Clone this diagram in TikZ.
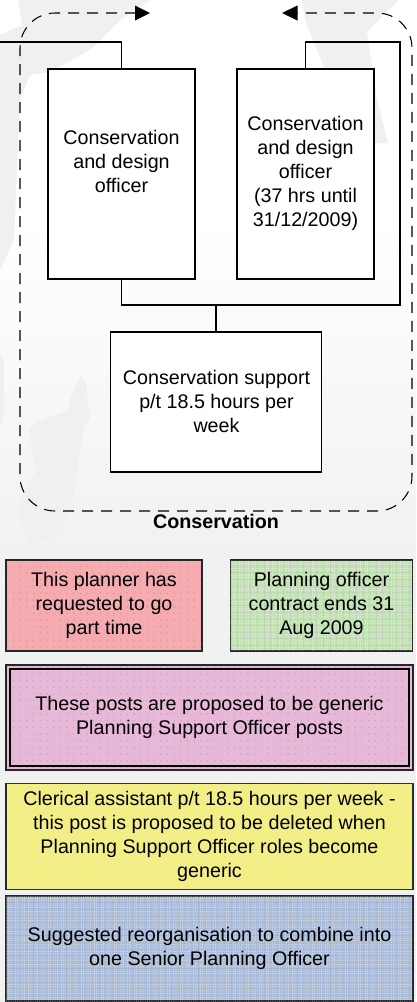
\documentclass[tikz,border=0pt]{standalone}
\usepackage{fontspec}
\setmainfont{Liberation Sans}
\usetikzlibrary{arrows.meta,patterns.meta}
\definecolor{wm}{HTML}{EFF1F0}
\definecolor{bgbot}{HTML}{F0F1F1}
\definecolor{rd}{HTML}{F6ABB0}
\definecolor{gn}{HTML}{C2E2B4}
\definecolor{pk}{HTML}{E8B8D8}
\definecolor{yl}{HTML}{F2EE84}
\definecolor{bl}{HTML}{ABBDDB}
\newcommand{\txt}{\fontsize{19.7}{24}\selectfont}
\tikzset{
 post/.style={draw=black,line width=1.05pt,fill=white,inner sep=0pt},
 posttext/.style={align=center,font=\txt,inner sep=0pt},
 note/.style={draw=black!85,line width=1.2pt,align=center,font=\txt,inner sep=0pt},
 link/.style={draw=black,line width=1.05pt},
 group/.style={draw=black,line width=1.05pt,dash pattern=on 11pt off 8pt,rounded corners=35pt},
 dotsp/.style={postaction={pattern={Dots[radius=0.9pt,distance=6.7pt]},pattern color=black,opacity=.11}},
 grid/.style={postaction={pattern={Dots[radius=0.7pt,distance=2.2pt]},pattern color=white,opacity=.5},
              postaction={pattern={Lines[angle=0,distance=6.6pt,line width=1pt]},pattern color=black,opacity=.06},
              postaction={pattern={Lines[angle=90,distance=6.6pt,line width=1pt]},pattern color=black,opacity=.06}},
 fine/.style={postaction={pattern={Dots[radius=0.6pt,distance=2.4pt]},pattern color=white,opacity=.15}},
}
\begin{document}
\begin{tikzpicture}[x=1pt,y=-1pt]
\useasboundingbox (0,0) rectangle (416,1002);
\fill[white] (0,0) rectangle (416,230);
\shade[top color=white!97!bgbot,bottom color=bgbot] (0,230) rectangle (416,560);
\fill[bgbot] (0,560) rectangle (416,1002);
% watermark map shapes
\fill[wm] (0,35) -- (22,25) -- (18,0) -- (150,0) -- (120,20) -- (90,50) -- (50,72) -- (30,75) -- (20,100) -- (14,240) -- (0,270) -- cycle;
\fill[wm] (302,0) -- (398,0) -- (367,32) -- (377,100) -- (388,143) -- (345,145) -- (325,70) -- (305,20) -- cycle;
\fill[wm] (0,355) -- (4,360) -- (4,415) -- (0,425) -- cycle;
\fill[wm] (80,376) -- (86,384) -- (90,418) -- (84,428) -- (72,500) -- (62,535) -- (30,545) -- (17,510) -- (36,470) -- (29,430) -- (36,422) -- (69,410) -- (70,400) -- cycle;
% posts
\node[post,minimum width=147pt,minimum height=210pt] (a) at (121.5,174) {};
\node[post,minimum width=137pt,minimum height=210pt] (b) at (305.5,174) {};
\node[post,minimum width=210.5pt,minimum height=140pt] (c) at (216.2,402) {};
\node[posttext] (at) at (121.5,161.7) {Conservation\\and design\\officer};
\node[posttext] (bt) at (305.5,173.7) {Conservation\\and design\\officer\\(37 hrs until\\31/12/2009)};
\node[posttext] (ct) at (216.5,401.7) {Conservation support\\p/t 18.5 hours per\\week};
% connectors
\coordinate (off) at (0,42);
\coordinate (rtop) at (400,42);
\coordinate (rbot) at (400,305);
\coordinate (mid) at (216,305);
\draw[link] (a.north) |- (off);
\draw[link] (b.north) |- (rtop) -- (rbot) -| (a.south);
\draw[link] (mid) -- (mid|-c.north);
% conservation group
\coordinate (arrL) at (150,13);
\coordinate (arrR) at (282,13);
\draw[group] (136,13) -- (20,13) -- (20,511) -- (412,511) -- (412,13) -- (296,13);
\fill[black] (arrL) -- (135,5.5) -- (135,20.5) -- cycle;
\fill[black] (arrR) -- (297.5,5.5) -- (297.5,20.5) -- cycle;
\node[font=\fontsize{19.7}{20}\selectfont\bfseries,inner sep=0pt] (lab) at (216,521.5) {Conservation};
% notes
\node[note,fill=rd,dotsp,minimum width=196pt,minimum height=91pt] (n1) at (104,605.5) {This planner has\\requested to go\\part time};
\node[note,fill=gn,grid,minimum width=182.5pt,minimum height=91pt] (n2) at (321.5,605.5) {Planning officer\\contract ends 31\\Aug 2009};
\node[note,fill=pk,dotsp,minimum width=407pt,minimum height=105pt] (n3) at (209.5,717.5) {These posts are proposed to be generic\\Planning Support Officer posts};
\node[draw=black,line width=1.2pt,minimum width=399pt,minimum height=97pt,inner sep=0pt] (n3i) at (209.5,717.5) {};
\node[note,fill=yl,fine,minimum width=407pt,minimum height=106pt] (n4) at (209.5,836.5) {Clerical assistant p/t 18.5 hours per week -\\this post is proposed to be deleted when\\Planning Support Officer roles become\\generic};
\node[note,fill=bl,grid,minimum width=407pt,minimum height=105pt] (n5) at (209.5,948.5) {Suggested reorganisation to combine into\\one Senior Planning Officer};
\end{tikzpicture}
\end{document}
